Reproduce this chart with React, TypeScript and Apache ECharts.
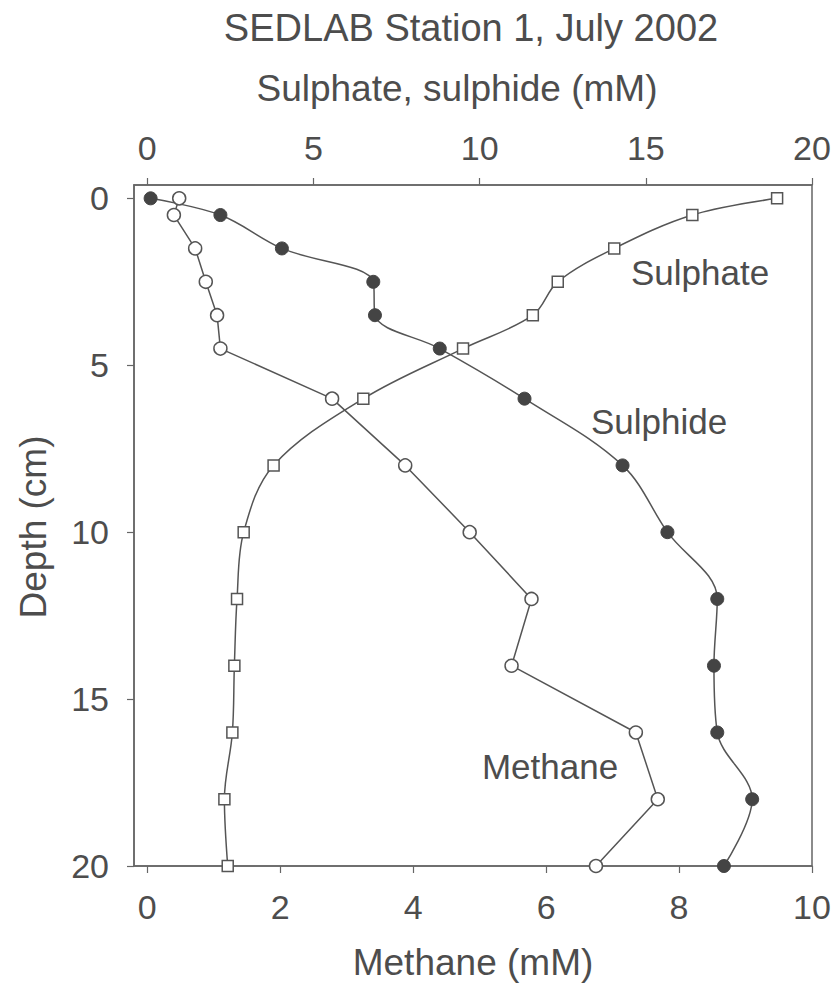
import React, { useEffect, useRef } from "react";
import * as echarts from "echarts";

const depth = [0, 0.5, 1.5, 2.5, 3.5, 4.5, 6, 8, 10, 12, 14, 16, 18, 20];
const sulphide = [0.1, 2.2, 4.05, 6.8, 6.85, 8.8, 11.35, 14.3, 15.65, 17.15, 17.05, 17.15, 18.2, 17.35];
const sulphate = [18.95, 16.4, 14.05, 12.35, 11.6, 9.5, 6.5, 3.8, 2.9, 2.7, 2.62, 2.56, 2.32, 2.42];
const methane = [0.48, 0.4, 0.72, 0.88, 1.05, 1.1, 2.78, 3.88, 4.85, 5.78, 5.48, 7.35, 7.68, 6.75];
const methaneTicks = [0, 2, 4, 6, 8, 10];
const sulphTicks = [0, 5, 10, 15, 20];
const depthTicks = [0, 5, 10, 15, 20];

const FONT = 'Arial, "Liberation Sans", Helvetica, sans-serif';
const TXT = "#4d4d4d";
const LINE = "#555555";
const AX = "#666666";

export default function App() {
  const ref = useRef<HTMLDivElement>(null);
  useEffect(() => {
    document.body.style.margin = "0";
    const chart = echarts.init(ref.current!, null, { renderer: "svg" });
    const pair = (xs: number[]) => xs.map((x, i) => [x, depth[i]]);
    const axisCommon = {
      axisLine: { show: true, onZero: false, lineStyle: { color: AX, width: 1.5 } },
      axisTick: { show: true, inside: false, length: 7, lineStyle: { color: AX, width: 1.2 } },
      splitLine: { show: false },
    };
    const tickFont = 34;
    chart.setOption({
      animation: false,
      backgroundColor: "#ffffff",
      textStyle: { fontFamily: FONT },
      title: {
        text: "SEDLAB Station 1, July 2002",
        left: 466,
        top: 4,
        textAlign: "center",
        textStyle: { fontFamily: FONT, fontSize: 38, fontWeight: "normal", color: TXT },
      },
      grid: { left: 134, right: 24, top: 185, bottom: 125, show: true, borderColor: AX, borderWidth: 1.5 },
      xAxis: [
        {
          type: "value",
          position: "bottom",
          min: -0.2,
          max: 10,
          name: "Methane (mM)",
          nameLocation: "middle",
          nameGap: 78,
          nameTextStyle: { fontFamily: FONT, fontSize: 37, color: TXT },
          ...axisCommon,
          axisTick: { ...axisCommon.axisTick, customValues: methaneTicks },
          axisLabel: { customValues: methaneTicks, margin: 24, fontSize: tickFont, color: TXT, fontFamily: FONT },
        },
        {
          type: "value",
          position: "top",
          min: -0.4,
          max: 20,
          ...axisCommon,
          axisTick: { ...axisCommon.axisTick, customValues: sulphTicks },
          axisLabel: { customValues: sulphTicks, margin: 20, fontSize: tickFont, color: TXT, fontFamily: FONT },
        },
      ],
      yAxis: [
        {
          type: "value",
          inverse: true,
          min: -0.4,
          max: 20,
          ...axisCommon,
          axisTick: { ...axisCommon.axisTick, customValues: depthTicks },
          axisLabel: { customValues: depthTicks, margin: 25, fontSize: tickFont, color: TXT, fontFamily: FONT },
        },
      ],
      graphic: [
        {
          type: "text",
          x: 457,
          y: 88,
          style: { text: "Sulphate, sulphide (mM)", fontSize: 37, fontFamily: FONT, fill: TXT, textAlign: "center", textVerticalAlign: "middle" },
        },
        {
          type: "text",
          x: 33,
          y: 527,
          rotation: Math.PI / 2,
          style: { text: "Depth (cm)", fontSize: 37, fontFamily: FONT, fill: TXT, textAlign: "center", textVerticalAlign: "middle" },
        },
        {
          type: "text",
          x: 700,
          y: 272,
          style: { text: "Sulphate", fontSize: 35, fontFamily: FONT, fill: TXT, textAlign: "center", textVerticalAlign: "middle" },
        },
        {
          type: "text",
          x: 659,
          y: 421,
          style: { text: "Sulphide", fontSize: 35, fontFamily: FONT, fill: TXT, textAlign: "center", textVerticalAlign: "middle" },
        },
        {
          type: "text",
          x: 550,
          y: 766,
          style: { text: "Methane", fontSize: 35, fontFamily: FONT, fill: TXT, textAlign: "center", textVerticalAlign: "middle" },
        },
      ],
      series: [
        {
          name: "Sulphate",
          type: "line",
          xAxisIndex: 1,
          data: pair(sulphate),
          smooth: 0.35,
          symbol: "rect",
          symbolSize: 11,
          lineStyle: { color: LINE, width: 1.5 },
          itemStyle: { color: "#ffffff", borderColor: LINE, borderWidth: 1.5 },
        },
        {
          name: "Methane",
          type: "line",
          xAxisIndex: 0,
          data: pair(methane),
          smooth: false,
          symbol: "circle",
          symbolSize: 13,
          showAllSymbol: true,
          lineStyle: { color: LINE, width: 1.5 },
          itemStyle: { color: "#ffffff", borderColor: LINE, borderWidth: 1.5 },
        },
        {
          name: "Sulphide",
          type: "line",
          xAxisIndex: 1,
          data: pair(sulphide),
          smooth: 0.35,
          symbol: "circle",
          symbolSize: 13,
          lineStyle: { color: LINE, width: 1.5 },
          itemStyle: { color: "#444444", borderColor: "#444444", borderWidth: 1 },
        },
      ],
    });
    return () => chart.dispose();
  }, []);
  return <div ref={ref} style={{ width: 836, height: 991 }} />;
}
